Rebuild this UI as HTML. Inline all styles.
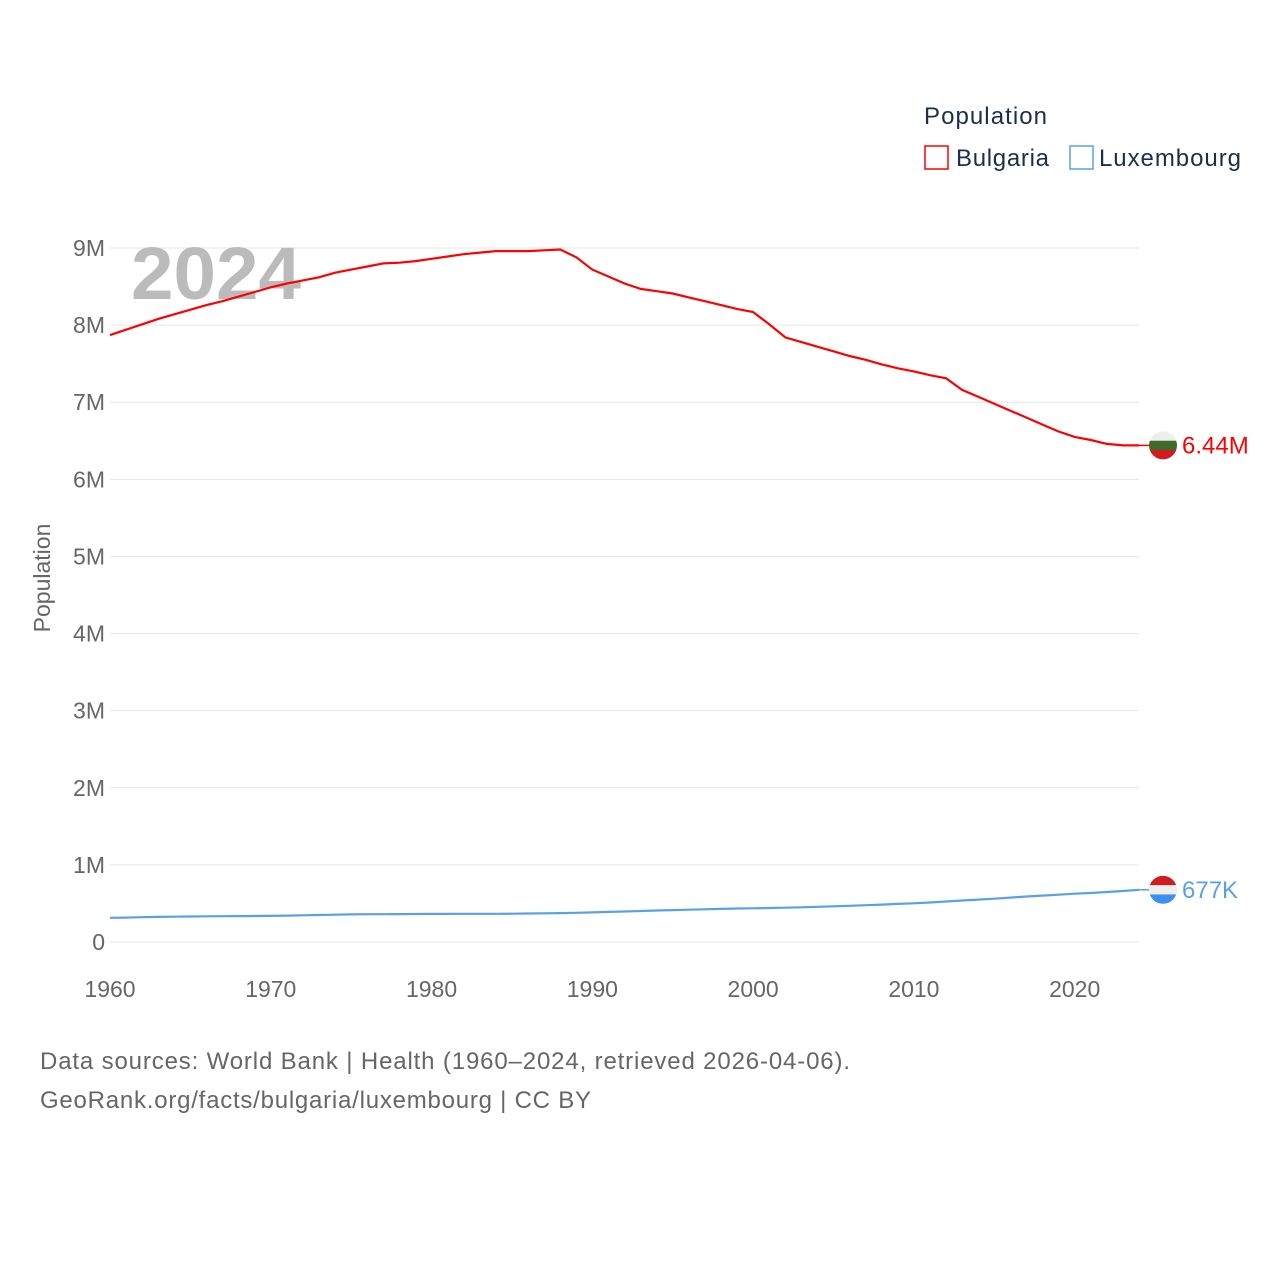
<!DOCTYPE html>
<html><head><meta charset="utf-8"><style>
body{margin:0;background:#fff;font-family:"Liberation Sans",sans-serif}
</style></head><body>
<svg width="1280" height="1280" viewBox="0 0 1280 1280">
<g id="grid"></g>
<g id="yt" font-size="23" fill="#666" text-anchor="end"></g>
<g id="xt" font-size="23" fill="#666" text-anchor="middle"></g>
<text x="131" y="299" font-size="74" font-weight="bold" fill="#bbb" textLength="170" lengthAdjust="spacingAndGlyphs">2024</text>
<text transform="translate(50,578) rotate(-90)" font-size="23" fill="#666" text-anchor="middle">Population</text>
<g id="series"></g>
<text x="924" y="124" font-size="24" fill="#1c2e4a" textLength="123">Population</text>
<g><rect x="925" y="146" width="23" height="23" fill="none" stroke="#f00" stroke-width="1.5"/><text x="956" y="166" font-size="24" fill="#1c2e4a" textLength="93">Bulgaria</text></g>
<g><rect x="1070" y="146" width="23" height="23" fill="none" stroke="#5aa0e8" stroke-width="1.5"/><text x="1099" y="166" font-size="24" fill="#1c2e4a" textLength="142">Luxembourg</text></g>
<text x="40" y="1069" font-size="24" fill="#666" textLength="810">Data sources: World Bank | Health (1960–2024, retrieved 2026-04-06).</text>
<text x="40" y="1108" font-size="24" fill="#666" textLength="551">GeoRank.org/facts/bulgaria/luxembourg | CC BY</text>
</svg>
<script>
const years=[];for(let y=1960;y<=2024;y++)years.push(y);
const bulgaria=[7.87,7.94,8.01,8.08,8.14,8.20,8.26,8.31,8.37,8.43,8.49,8.54,8.58,8.62,8.68,8.72,8.76,8.80,8.81,8.83,8.86,8.89,8.92,8.94,8.96,8.96,8.96,8.97,8.98,8.88,8.72,8.63,8.54,8.47,8.44,8.41,8.36,8.31,8.26,8.21,8.17,8.01,7.84,7.78,7.72,7.66,7.60,7.55,7.49,7.44,7.40,7.35,7.31,7.16,7.07,6.98,6.89,6.80,6.71,6.62,6.55,6.51,6.46,6.44,6.44];
const luxembourg=[0.314,0.317,0.321,0.325,0.328,0.331,0.333,0.335,0.336,0.337,0.339,0.342,0.346,0.350,0.354,0.358,0.360,0.361,0.362,0.363,0.364,0.365,0.366,0.366,0.366,0.367,0.369,0.372,0.375,0.379,0.384,0.390,0.396,0.402,0.408,0.414,0.419,0.424,0.429,0.434,0.437,0.441,0.445,0.450,0.456,0.463,0.470,0.477,0.485,0.494,0.502,0.512,0.525,0.538,0.550,0.562,0.576,0.590,0.602,0.614,0.626,0.636,0.648,0.662,0.677];
const yTicks=[0,1,2,3,4,5,6,7,8,9];
const yLabels=["0","1M","2M","3M","4M","5M","6M","7M","8M","9M"];
const xTicks=[1960,1970,1980,1990,2000,2010,2020];
const NS="http://www.w3.org/2000/svg";
const X=v=>110+(v-1960)*(1139-110)/64;
const Y=v=>942-v*(942-248)/9;
function mk(t,a,p){const e=document.createElementNS(NS,t);for(const k in a)e.setAttribute(k,a[k]);p.appendChild(e);return e;}
const grid=document.getElementById('grid'),yt=document.getElementById('yt'),xt=document.getElementById('xt'),ser=document.getElementById('series');
yTicks.forEach((v,i)=>{
 const l=mk('line',{x1:110,x2:1139,y1:Y(v),y2:Y(v),stroke:'#e6e6e6','stroke-width':1},grid);
 
 
 const t=mk('text',{x:105,y:Y(v)+8},yt);t.textContent=yLabels[i];
 
 
});
xTicks.forEach(v=>{
 const t=mk('text',{x:X(v),y:997},xt);t.textContent=v;
 
 
});
function line(data,color,name){
 const d=data.map((v,i)=>(i?'L':'M')+X(years[i]).toFixed(1)+','+Y(v).toFixed(1)).join('');
 const p=mk('path',{d:d,fill:'none',stroke:color,'stroke-width':2.2},ser);
 
 
}
line(bulgaria,'#ff0000','bulgaria-line');
line(luxembourg,'#5aa0e8','luxembourg-line');
function flag(v,cols,label,color,name){
 const cy=Y(v),cx=1163,r=14;
 const g=mk('g',{},ser);
 
 
 mk('line',{x1:1139,x2:1149,y1:cy,y2:cy,stroke:color,'stroke-width':1.5},g);
 const id='c'+name;
 const cp=mk('clipPath',{id:id},g);mk('circle',{cx:cx,cy:cy,r:r},cp);
 cols.forEach((c,i)=>mk('rect',{x:cx-r,y:cy-r+i*2*r/3,width:2*r,height:2*r/3+0.5,fill:c,'clip-path':'url(#'+id+')'},g));
 const t=mk('text',{x:1182,y:cy+8,'font-size':24,fill:color},g);t.textContent=label;
}
flag(bulgaria[bulgaria.length-1],['#eeeeee','#3e6b2a','#d01c1f'],'6.44M','#ff0000','bulgaria-end-label');
flag(luxembourg[luxembourg.length-1],['#d01c1f','#eeeeee','#3a8ff0'],'677K','#5aa0e8','luxembourg-end-label');
</script>
</body></html>
